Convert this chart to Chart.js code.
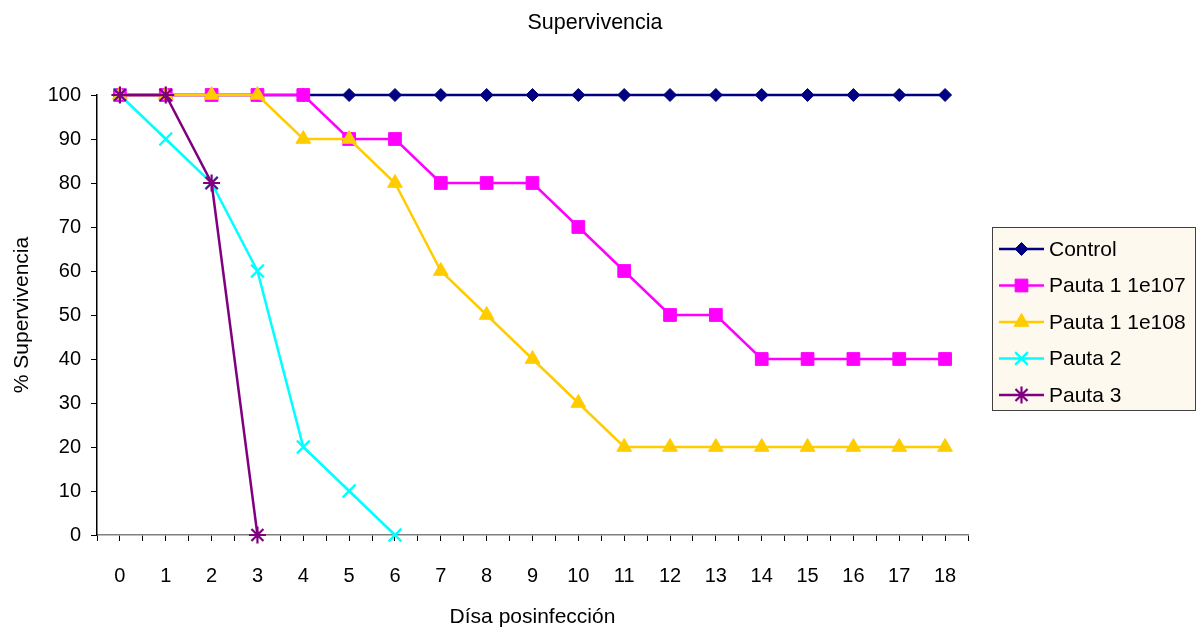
<!DOCTYPE html>
<html>
<head>
<meta charset="utf-8">
<script src="https://cdn.jsdelivr.net/npm/chart.js@4/dist/chart.umd.min.js"></script>
<style>
html,body{margin:0;padding:0;background:#fff;}
#wrap{width:1199px;height:630px;position:relative;}
</style>
</head>
<body>
<div id="wrap"><canvas id="c" width="1199" height="630"></canvas></div>
<script>
const chartTitle = 'Supervivencia';
const days = [0,1,2,3,4,5,6,7,8,9,10,11,12,13,14,15,16,17,18];
const seriesNames = ['Control','Pauta 1 1e107','Pauta 1 1e108','Pauta 2','Pauta 3'];
const control   = [100,100,100,100,100,100,100,100,100,100,100,100,100,100,100,100,100,100,100];
const pauta1e107 = [100,100,100,100,100,90,90,80,80,80,70,60,50,50,40,40,40,40,40];
const pauta1e108 = [100,100,100,100,90,90,80,60,50,40,30,20,20,20,20,20,20,20,20];
const pauta2    = [100,90,80,60,20,10,0];
const pauta3    = [100,100,80,0];
const yTicks = [0,10,20,30,40,50,60,70,80,90,100];

const colors = ['#000080','#FF00FF','#FFCC00','#00FFFF','#800080'];
const styles = ['rectRot','rect','triangle','crossRot','star'];
const radii  = [6.5,9,8.5,9,8.5];
const values = [control,pauta1e107,pauta1e108,pauta2,pauta3];

const datasets = values.map((arr,i)=>({
  label: seriesNames[i],
  data: arr.map((v,k)=>({x: days[k], y: v})),
  borderColor: colors[i],
  backgroundColor: colors[i],
  pointBackgroundColor: colors[i],
  pointBorderColor: colors[i],
  pointStyle: styles[i],
  pointRadius: radii[i],
  pointBorderWidth: (styles[i]==='crossRot'||styles[i]==='star') ? 2.2 : 1,
  borderWidth: 2.5,
  tension: 0,
  clip: false,
  order: 5 - i
}));

const FONT = 'Liberation Sans, Arial, sans-serif';

const decorPlugin = {
  id: 'decor',
  afterDraw(chart){
    const ctx = chart.ctx;
    ctx.save();
    // title
    ctx.fillStyle = '#000';
    ctx.font = '21.5px ' + FONT;
    ctx.textAlign = 'center';
    ctx.textBaseline = 'middle';
    ctx.fillText(chartTitle, 595, 23);
    ctx.textAlign = 'left';
    // legend
    const bx = 992.5, by = 227.5, bw = 203, bh = 183;
    ctx.fillStyle = '#FEF9EF';
    ctx.fillRect(bx, by, bw, bh);
    ctx.strokeStyle = '#404040';
    ctx.lineWidth = 1;
    ctx.strokeRect(bx, by, bw, bh);
    const rows = [249, 285.5, 322, 358.5, 395];
    ctx.font = '21px ' + FONT;
    ctx.textBaseline = 'middle';
    datasets.forEach((d,i)=>{
      const y = rows[i];
      ctx.strokeStyle = d.borderColor;
      ctx.lineWidth = 2.5;
      ctx.beginPath();
      ctx.moveTo(999, y);
      ctx.lineTo(1044, y);
      ctx.stroke();
      ctx.fillStyle = d.backgroundColor;
      ctx.strokeStyle = d.borderColor;
      ctx.lineWidth = d.pointBorderWidth;
      Chart.helpers.drawPoint(ctx, {pointStyle: d.pointStyle, rotation: 0, radius: d.pointRadius, borderWidth: d.pointBorderWidth}, 1021.5, y);
      ctx.fillStyle = '#000';
      ctx.fillText(d.label, 1049, y + 1);
    });
    ctx.restore();
  }
};

new Chart(document.getElementById('c'), {
  type: 'line',
  data: { datasets },
  options: {
    responsive: false,
    animation: false,
    layout: { padding: { left: 0, right: 231, top: 95, bottom: 0 } },
    plugins: {
      legend: { display: false },
      tooltip: { enabled: false },
      title: { display: false }
    },
    scales: {
      x: {
        type: 'linear',
        min: -0.5,
        max: 18.5,
        afterBuildTicks(scale){
          const t = [];
          for (let k = 0; k <= 38; k++) t.push({ value: -0.5 + k * 0.5 });
          scale.ticks = t;
        },
        afterFit(scale){ scale.height = 95; },
        ticks: {
          autoSkip: false,
          maxRotation: 0,
          color: '#000',
          font: { family: FONT, size: 20 },
          padding: 23,
          callback: (v) => Number.isInteger(v) ? String(v) : ''
        },
        grid: { drawOnChartArea: false, drawTicks: true, tickLength: 6, color: '#000', tickColor: '#000' },
        border: { display: true, color: '#808080', width: 1.5 },
        title: {
          display: true,
          text: 'Dísa posinfección',
          color: '#000',
          font: { family: FONT, size: 21 },
          padding: { top: 0, bottom: 0 }
        }
      },
      y: {
        min: 0,
        max: 100,
        afterBuildTicks(scale){ scale.ticks = yTicks.map(v=>({value:v})); },
        afterFit(scale){ scale.width = 97; },
        ticks: {
          color: '#000',
          font: { family: FONT, size: 20 },
          padding: 10
        },
        grid: { drawOnChartArea: false, drawTicks: true, tickLength: 6, color: '#000', tickColor: '#000' },
        border: { display: true, color: '#000', width: 1.5 },
        title: {
          display: true,
          text: '% Supervivencia',
          color: '#000',
          font: { family: FONT, size: 21 },
          padding: { top: 10, bottom: 0 }
        }
      }
    }
  },
  plugins: [decorPlugin]
});
</script>
</body>
</html>
